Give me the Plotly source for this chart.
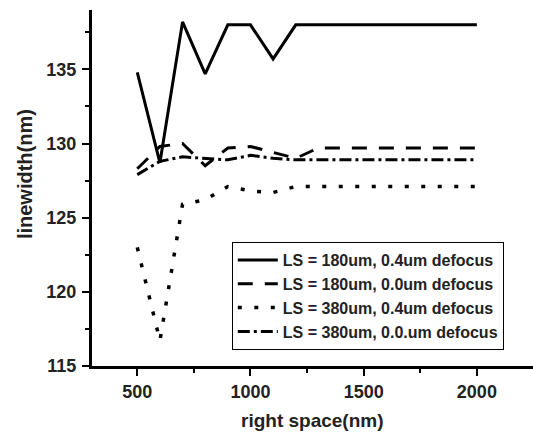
import plotly.graph_objects as go

right_space = [500, 600, 700, 800, 900, 1000, 1100, 1200, 1300, 1400, 1500, 1600, 1700, 1800, 1900, 2000]
ls180_04 = [134.8, 128.7, 138.2, 134.7, 138.0, 138.0, 135.7, 138.0, 138.0, 138.0, 138.0, 138.0, 138.0, 138.0, 138.0, 138.0]
ls180_00 = [128.3, 129.8, 130.0, 128.5, 129.7, 129.8, 129.4, 129.0, 129.7, 129.7, 129.7, 129.7, 129.7, 129.7, 129.7, 129.7]
ls380_04 = [123.0, 116.7, 125.9, 126.2, 127.1, 126.8, 126.7, 127.1, 127.1, 127.1, 127.1, 127.1, 127.1, 127.1, 127.1, 127.1]
ls380_00 = [127.9, 128.8, 129.1, 129.0, 128.9, 129.2, 129.0, 128.9, 128.9, 128.9, 128.9, 128.9, 128.9, 128.9, 128.9, 128.9]
names = ["LS = 180um, 0.4um defocus", "LS = 180um, 0.0um defocus",
         "LS = 380um, 0.4um defocus", "LS = 380um, 0.0.um defocus"]

FONT = "Arial, 'Liberation Sans', sans-serif"
TXT = "#222"

fig = go.Figure()
styles = [
    dict(dash="solid", width=3),
    dict(dash="15px,12px", width=3),
    dict(dash="4px,12.5px", width=3.5),
    dict(dash="12px,4px,3px,4px", width=3),
]
for y, n, s in zip([ls180_04, ls180_00, ls380_04, ls380_00], names, styles):
    fig.add_trace(go.Scatter(x=right_space, y=y, mode="lines", name=n,
                             line=dict(color="black", **s)))

axis_common = dict(
    showline=True, linecolor="black", linewidth=3, showgrid=False, zeroline=False,
    ticks="outside", ticklen=7, tickwidth=2, tickcolor="black",
    tickfont=dict(family=FONT, size=18, color=TXT, weight="bold"),
)
fig.update_xaxes(range=[300, 2248], tick0=500, dtick=500,
                 minor=dict(ticks="outside", ticklen=4, tickwidth=2, tickcolor="black", dtick=250, tick0=0),
                 **axis_common)
fig.update_yaxes(range=[115, 139], tick0=115, dtick=5,
                 minor=dict(ticks="outside", ticklen=4, tickwidth=2, tickcolor="black", dtick=2.5, tick0=115),
                 ticklabelstandoff=2,
                 **axis_common)

fig.add_annotation(text="right space(nm)", xref="paper", yref="paper", x=0.5, y=-0.1527,
                   yanchor="middle", showarrow=False,
                   font=dict(family=FONT, size=19, color=TXT, weight="bold"))
fig.add_annotation(text="linewidth(nm)", xref="paper", yref="paper", x=-0.152, y=0.539,
                   xanchor="center", textangle=-90, showarrow=False,
                   font=dict(family=FONT, size=20, color=TXT, weight="bold"))

fig.update_layout(
    width=533, height=432,
    margin=dict(l=92, r=0, t=10, b=66),
    paper_bgcolor="white", plot_bgcolor="white",
    showlegend=True,
    legend=dict(x=0.317, y=0.348, xanchor="left", yanchor="top",
                bgcolor="white", bordercolor="black", borderwidth=1,
                font=dict(family=FONT, size=16, color=TXT, weight="bold"),
                itemwidth=40, tracegroupgap=0),
)
fig.write_html("out.html", config={"displayModeBar": False},
               post_script="document.body.style.margin='0';document.body.style.padding='0';")
